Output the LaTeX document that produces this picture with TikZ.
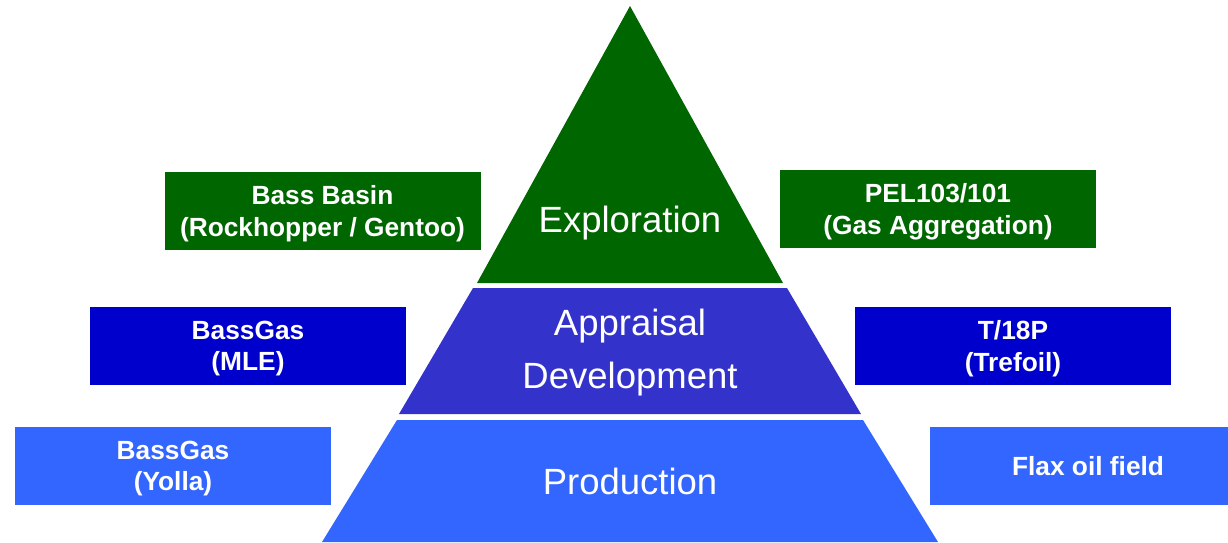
\documentclass[tikz,border=0pt]{standalone}
\usepackage{fontspec}
\setmainfont{Liberation Sans}
\definecolor{exgreen}{HTML}{006600}
\definecolor{appblue}{HTML}{3333CC}
\definecolor{boxblue}{HTML}{0000CC}
\definecolor{prodblue}{HTML}{3366FF}
\tikzset{
    layer label/.style={
            text=white, align=center,
            font=\fontsize{36.5}{53}\selectfont
        },
    site box/.style={
            fill=#1, text=white, align=center, inner sep=0pt,
            minimum width=316pt, minimum height=78pt, text depth=0pt,
            font=\bfseries\fontsize{26.3}{31.5}\selectfont
        },
}
\begin{document}
\begin{tikzpicture}[x=1pt, y=-1pt]
        \useasboundingbox (0, 0) rectangle (1228, 542);
        \clip (0, 0) rectangle (1228, 542);
        %draw the three layers of the pyramid
        \fill[exgreen] (630, 6) -- (783, 283) -- (477, 283) -- cycle;
        \fill[appblue] (473, 288) -- (787, 288) -- (861, 414) -- (399, 414) -- cycle;
        \fill[prodblue] (397, 420) -- (863, 420) -- (938, 542) -- (322, 542) -- cycle;
        %label the layers
        \node[layer label, anchor=base] (explore) at (630, 232) {Exploration};
        \node[layer label] (appraise) at (630, 353) {Appraisal\\Development};
        \node[layer label, anchor=base] (produce) at (630, 494) {Production};
        %draw the boxes on the left
        \node[site box=exgreen] (bassbasin) at (322.5, 211) {Bass Basin\\(Rockhopper / Gentoo)};
        \node[site box=boxblue] (mle) at (248, 346) {BassGas\\(MLE)};
        \node[site box=prodblue] (yolla) at (173, 466) {BassGas\\(Yolla)};
        %draw the boxes on the right
        \node[site box=exgreen] (pel) at (938, 209) {PEL103/101\\(Gas Aggregation)};
        \node[site box=boxblue] (trefoil) at (1013, 346) {T/18P\\(Trefoil)};
        \node[site box=prodblue] (flax) at (1088, 466) {Flax oil field};
    \end{tikzpicture}
\end{document}
